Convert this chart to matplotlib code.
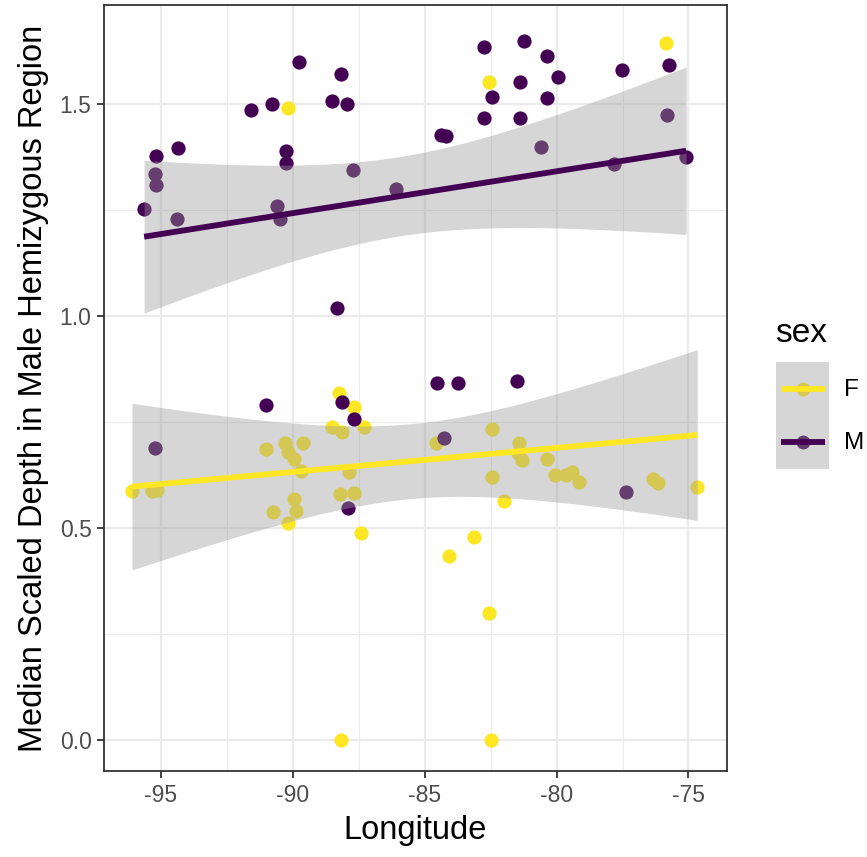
import numpy as np
import matplotlib as mpl
mpl.use('Agg')
import matplotlib.pyplot as plt
from matplotlib.patches import Patch
from matplotlib.lines import Line2D
from matplotlib.legend_handler import HandlerLine2D

plt.rcParams['font.family'] = ['Liberation Sans', 'DejaVu Sans']

# values (longitude, median scaled depth)
f_lon = [-90.18, -82.56, -75.85,
	-96.10, -95.34, -95.15,
	-91.02, -90.75, -90.30, -90.18, -89.96, -89.69, -89.62, -89.96, -89.88, -90.18,
	-88.25, -87.68, -88.51, -88.14, -87.30, -87.87, -88.21, -87.68, -87.42,
	-84.57, -82.45, -82.45, -81.99, -83.13, -84.08, -81.42, -81.46, -81.31, -80.36,
	-80.06, -79.64, -79.41, -79.15, -76.34, -76.15, -74.67,
	-82.56, -88.17, -82.49]
f_depth = [1.490, 1.552, 1.644,
	0.587, 0.587, 0.590,
	0.686, 0.538, 0.700, 0.679, 0.662, 0.634, 0.700, 0.568, 0.540, 0.512,
	0.818, 0.785, 0.738, 0.726, 0.738, 0.632, 0.580, 0.582, 0.488,
	0.700, 0.733, 0.620, 0.564, 0.479, 0.434, 0.700, 0.676, 0.660, 0.662,
	0.625, 0.625, 0.632, 0.609, 0.615, 0.606, 0.596,
	0.300, 0.000, 0.000]

m_lon = [-95.64, -95.19, -95.23, -95.19, -94.36, -94.40, -91.59, -90.79, -90.26, -90.26,
	-90.60, -90.49, -89.77, -88.51, -88.17, -87.95, -87.72, -88.33, -86.09, -84.40,
	-84.20, -82.75, -81.23, -80.36, -81.39, -79.94, -82.45, -80.36, -82.75, -81.39,
	-80.59, -77.52, -75.74, -75.81, -77.82, -75.09,
	-91.02, -88.14, -87.68, -87.91, -95.23, -84.53, -83.74, -81.50, -84.27, -77.37]
m_depth = [1.252, 1.377, 1.335, 1.309, 1.396, 1.229, 1.486, 1.500, 1.389, 1.361,
	1.259, 1.229, 1.599, 1.507, 1.571, 1.500, 1.344, 1.019, 1.300, 1.427,
	1.425, 1.634, 1.649, 1.613, 1.552, 1.564, 1.517, 1.514, 1.467, 1.467,
	1.398, 1.580, 1.592, 1.474, 1.358, 1.375,
	0.790, 0.797, 0.757, 0.547, 0.689, 0.842, 0.842, 0.847, 0.712, 0.585]

sexes = ['F', 'M']
colors = {'F': '#FDE725', 'M': '#440154'}
x_ticks = [-95, -90, -85, -80, -75]
y_ticks = [0.0, 0.5, 1.0, 1.5]

def t_quantile(df, z=1.959964):
	#Cornish-Fisher expansion of the student t 97.5% quantile
	return z + (z**3 + z) / (4 * df) + (5 * z**5 + 16 * z**3 + 3 * z) / (96 * df**2)

def lm_fit(x, y, n_out=80):
	x = np.asarray(x)
	y = np.asarray(y)
	n = len(x)
	slope, intercept = np.polyfit(x, y, 1)
	resid = y - (intercept + slope * x)
	s = np.sqrt(np.sum(resid**2) / (n - 2))
	xs = np.linspace(x.min(), x.max(), n_out)
	fit = intercept + slope * xs
	se = s * np.sqrt(1.0 / n + (xs - x.mean())**2 / np.sum((x - x.mean())**2))
	t = t_quantile(n - 2)
	return xs, fit, fit - t * se, fit + t * se

class CenteredLine(HandlerLine2D):
	#put the key line in the middle of the gray key box, a bit inset
	def create_artists(self, legend, orig_handle, xdescent, ydescent, width, height, fontsize, trans):
		arts = super().create_artists(legend, orig_handle, xdescent, ydescent, width, height, fontsize, trans)
		for a in arts:
			xd = np.asarray(a.get_xdata(), dtype=float)
			if len(xd) > 1:
				xd = np.linspace(xd.min() + 3.5, xd.max() - 3.5, len(xd))
			a.set_data(xd, np.full(len(xd), height / 2.0 - ydescent))
		return arts

fig = plt.figure(figsize=(8.67, 8.57), dpi=100)
ax = fig.add_axes([0.120, 0.1003, 0.7185, 0.8937])

data = {'F': (f_lon, f_depth), 'M': (m_lon, m_depth)}

for sex in sexes:
	ax.scatter(data[sex][0], data[sex][1], s=105, color=colors[sex], linewidths=0, zorder=2)

for sex in sexes:
	xs, fit, lo, hi = lm_fit(*data[sex])
	ax.fill_between(xs, lo, hi, color='#999999', alpha=0.4, linewidth=0, zorder=3)
	ax.plot(xs, fit, color=colors[sex], lw=4.2, solid_capstyle='butt', zorder=4)

ax.set_xlim(-97.16, -73.54)
ax.set_ylim(-0.073, 1.733)
ax.set_xticks(x_ticks)
ax.set_xticklabels(['%d' % v for v in x_ticks])
ax.set_yticks(y_ticks)
ax.set_yticklabels(['%.1f' % v for v in y_ticks])
ax.set_xticks([-92.5, -87.5, -82.5, -77.5], minor=True)
ax.set_yticks([0.25, 0.75, 1.25], minor=True)

ax.grid(which='major', color='#ebebeb', lw=1.6, zorder=0)
ax.grid(which='minor', color='#ebebeb', lw=0.8, zorder=0)
ax.set_axisbelow(True)
for sp in ax.spines.values():
	sp.set_color('#333333')
	sp.set_linewidth(1.3)
ax.tick_params(which='major', length=5, width=1.3, color='#333333', labelsize=16.5, labelcolor='#4d4d4d', pad=4)
ax.tick_params(which='minor', length=0)

ax.set_xlabel('Longitude', fontsize=23.5, labelpad=6)
ax.set_ylabel('Median Scaled Depth in Male Hemizygous Region', fontsize=23.5, labelpad=8)

# legend: title as its own text, keys stacked into one gray block
# key layers in plot order: point, then ribbon fill, then line
fig.text(0.894, 1 - 333 / 857, 'sex', fontsize=24, ha='left', va='center')
handles = []
for sex in sexes:
	handles.append((Line2D([], [], ls='none', color=colors[sex], marker='o', markersize=10, markeredgewidth=0),
		Patch(facecolor='#999999', alpha=0.4, edgecolor='none'),
		Line2D([], [], color=colors[sex], lw=4.2, solid_capstyle='butt')))
leg = fig.legend(handles, sexes, loc='upper left', bbox_to_anchor=(0.895, 1 - 362 / 857),
	frameon=False, fontsize=17.5, handler_map={Line2D: CenteredLine()},
	handlelength=2.2, handleheight=3.0, labelspacing=0, handletextpad=0.6, borderpad=0, borderaxespad=0)

plt.savefig('out.png', dpi=100)
